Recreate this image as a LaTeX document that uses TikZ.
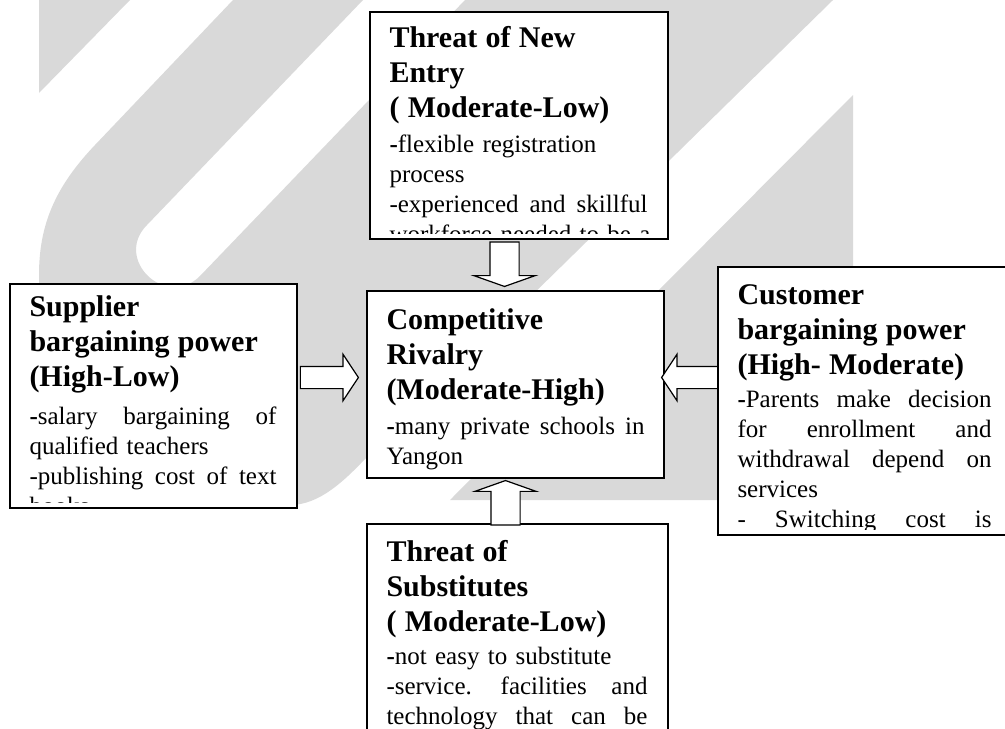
\documentclass[tikz,border=0pt]{standalone}
\usepackage{fontspec}
\setmainfont{Liberation Serif}
\usepackage{tikz}
\usetikzlibrary{shapes,arrows,calc,positioning}
\definecolor{wmgray}{RGB}{217,217,217}
\newcommand{\forcewidth}{0pt}
\newcommand{\titlefs}{\fontsize{15}{17.5}\selectfont\bfseries}
\newcommand{\bodyfs}{\fontsize{12.5}{15}\selectfont}
\newcommand{\sline}[1]{\leavevmode\hbox to\forcewidth{#1}}

\begin{document}
\begin{tikzpicture}[x=0.5pt,y=-0.5pt,
	force/.style={rectangle,draw=black,line width=0.9pt,fill=white,inner sep=0pt},
	forcetext/.style={anchor=base west,inner sep=0pt,align=left,font=\bodyfs,text width=\forcewidth},
	vblock/.style={single arrow,draw=black,fill=white,line width=0.6pt,inner sep=7pt,minimum width=0pt,single arrow head extend=8pt,single arrow tip angle=141,minimum height=22.25pt},
	hblock/.style={single arrow,draw=black,fill=white,line width=0.6pt,inner sep=5.25pt,minimum width=0pt,single arrow head extend=6pt,single arrow tip angle=113,minimum height=29pt}]
		\useasboundingbox (0,0) rectangle (1005,728);
		% watermark
		\fill[wmgray] (39,0) -- (130,0) -- (39,93) -- cycle;
		\fill[wmgray] (233,0) -- (95,145) .. controls (55,187) and (39,225) .. (39,275) -- (39,390)
			.. controls (39,465) and (100,505) .. (180,505) -- (290,505)
			.. controls (320,505) and (345,480) .. (367,457) -- (833,0) -- (465,0) -- (200,276)
			.. controls (166,310) and (113,259) .. (147,225) -- (363,0) -- cycle;
		\fill[wmgray] (853,95) -- (853,500) -- (450,500) -- cycle;
		\node (entry) [force,minimum width=149pt,minimum height=113.5pt] at (519,125.5) {};
		\node (supplier) [force,minimum width=143.5pt,minimum height=112pt] at (153.5,396) {};
		\node (rivalry) [force,minimum width=148.5pt,minimum height=93.5pt] at (515.5,384.5) {};
		\node (customer) [force,minimum width=147pt,minimum height=134pt] at (865,401) {};
		\node (substitute) [force,minimum width=150.5pt,minimum height=123pt] at (517.5,647) {};
		\begin{scope}
			\renewcommand{\forcewidth}{129pt}
			\clip ($(entry.south west)+(0,-6)$) rectangle (entry.north east);
			\node (entrytext) [forcetext] at ($(entry.north west)+(20,36)$) {{\titlefs Threat of New\\Entry\\( Moderate-Low)\par}\vspace{2.5pt}{\bodyfs\textbf{-}flexible registration\\process\\\sline{-experienced \hfill and \hfill skillful}\\\sline{workforce \hfill needed \hfill to \hfill be \hfill a}\par}};
		\end{scope}
		\begin{scope}
			\renewcommand{\forcewidth}{123.5pt}
			\clip ($(supplier.south west)+(0,-6)$) rectangle (supplier.north east);
			\node (suppliertext) [forcetext] at ($(supplier.north west)+(20,33)$) {{\titlefs Supplier\\bargaining power\\(High-Low)\par}\vspace{4pt}{\bodyfs\sline{\textbf{-}salary \hfill bargaining \hfill of}\\qualified teachers\\\sline{-publishing \hfill cost \hfill of \hfill text}\\books\par}};
		\end{scope}
		\begin{scope}
			\renewcommand{\forcewidth}{129pt}
			\clip ($(rivalry.south west)+(0,-6)$) rectangle (rivalry.north east);
			\node (rivalrytext) [forcetext] at ($(rivalry.north west)+(20,39)$) {{\titlefs Competitive\\Rivalry\\(Moderate-High)\par}\vspace{2.5pt}{\bodyfs\sline{\textbf{-}many \hfill private \hfill schools \hfill in}\\Yangon\par}};
		\end{scope}
		\begin{scope}
			\renewcommand{\forcewidth}{127pt}
			\clip ($(customer.south west)+(0,-6)$) rectangle (customer.north east);
			\node (customertext) [forcetext] at ($(customer.north west)+(20,38)$) {{\titlefs Customer\\bargaining power\\(High- Moderate)\par}\vspace{1.5pt}{\bodyfs\sline{\textbf{-}Parents \hfill make \hfill decision}\\\sline{for \hfill enrollment \hfill and}\\\sline{withdrawal \hfill depend \hfill on}\\services\\\sline{- \hfill Switching \hfill cost \hfill is}\par}};
		\end{scope}
		\begin{scope}
			\renewcommand{\forcewidth}{130.5pt}
			\clip ($(substitute.south west)+(0,-6)$) rectangle (substitute.north east);
			\node (substitutetext) [forcetext] at ($(substitute.north west)+(20,38)$) {{\titlefs Threat of\\Substitutes\\( Moderate-Low)\par}\vspace{1.5pt}{\bodyfs\textbf{-}not easy to substitute\\\sline{-service. \hfill facilities \hfill and}\\\sline{technology \hfill that \hfill can \hfill be}\par}};
		\end{scope}
		\node (entryarrow) [vblock,rotate=-90,anchor=tip] at ($(rivalry.north)+(-11,-3)$) {};
		\node (substitutearrow) [vblock,rotate=90,anchor=tip] at ($(rivalry.south)+(-10,1)$) {};
		\node (supplierarrow) [hblock,anchor=tip] at ($(rivalry.west)+(-7,-7)$) {};
		\node (customerarrow) [hblock,rotate=180,anchor=tip,minimum height=28pt] at ($(rivalry.east)+(-4,-7)$) {};
\end{tikzpicture}
\end{document}
